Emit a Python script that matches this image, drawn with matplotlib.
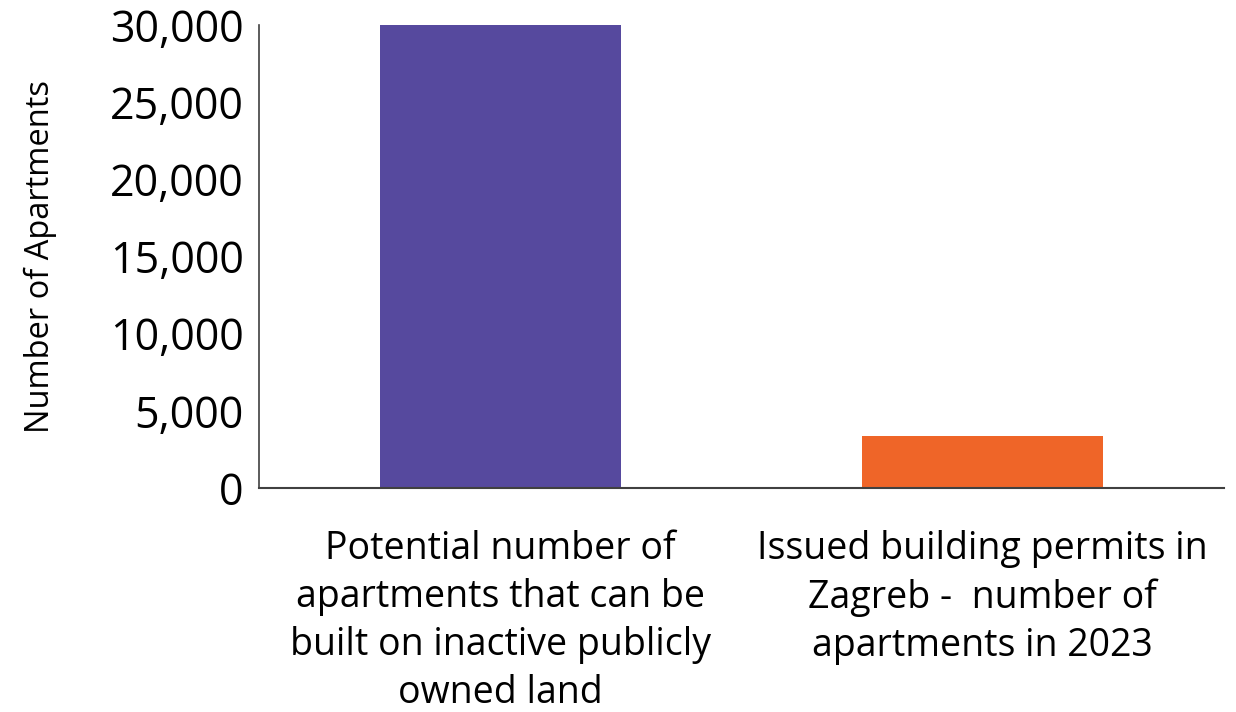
import matplotlib
import matplotlib.pyplot as plt
from matplotlib.ticker import FuncFormatter

matplotlib.use("Agg")

plt.rcParams["font.family"] = ["Open Sans", "DejaVu Sans"]

categories = [
    "Potential number of\napartments that can be\nbuilt on inactive publicly\nowned land",
    "Issued building permits in\nZagreb -  number of\napartments in 2023",
]
values = [30000, 3370]
colors = ["#56499e", "#ef6528"]

fig = plt.figure(figsize=(12.36, 7.12), dpi=100)
ax = fig.add_axes([0.2096, 0.3146, 0.7806, 0.6503])

ax.bar(range(len(values)), values, width=0.5, color=colors)

ax.set_xlim(-0.5, 1.5)
ax.set_ylim(0, 30000)
ax.set_yticks(range(0, 30001, 5000))
ax.yaxis.set_major_formatter(FuncFormatter(lambda v, p: f"{int(v):,}"))
ax.set_xticks(range(len(categories)))
ax.set_xticklabels(categories, fontsize=27, linespacing=1.35)
ax.tick_params(axis="y", labelsize=31, length=0, pad=11)
ax.tick_params(axis="x", length=0, pad=30)

ax.set_ylabel("Number of Apartments", fontsize=23.5, labelpad=38)

for side in ["top", "right"]:
    ax.spines[side].set_visible(False)
ax.spines["left"].set_color("#404040")
ax.spines["left"].set_linewidth(1.2)
ax.spines["bottom"].set_color("#404040")
ax.spines["bottom"].set_linewidth(1.5)

fig.savefig("out.png", dpi=100)
plt.close(fig)
